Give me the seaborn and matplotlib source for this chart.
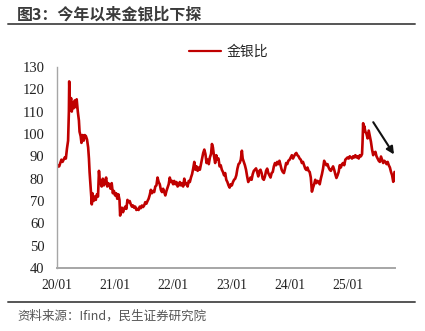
import matplotlib
matplotlib.use("Agg")
import matplotlib.pyplot as plt
import matplotlib.dates as mdates
from matplotlib.lines import Line2D
import pandas as pd
import seaborn as sns

# Gold/silver price ratio, roughly weekly samples, one list pair per year
dates_2020 = ["2020-01-01", "2020-01-08", "2020-01-15", "2020-01-22", "2020-01-29", "2020-02-05",
              "2020-02-12", "2020-02-19", "2020-02-26", "2020-03-04", "2020-03-11", "2020-03-16",
              "2020-03-18", "2020-03-20", "2020-03-25", "2020-03-30", "2020-04-03", "2020-04-09",
              "2020-04-15", "2020-04-22", "2020-04-28", "2020-05-04", "2020-05-11", "2020-05-18",
              "2020-05-22", "2020-05-29", "2020-06-03", "2020-06-10", "2020-06-17", "2020-06-24",
              "2020-07-01", "2020-07-08", "2020-07-15", "2020-07-20", "2020-07-24", "2020-07-29",
              "2020-08-04", "2020-08-07", "2020-08-11", "2020-08-18", "2020-08-25", "2020-09-01",
              "2020-09-08", "2020-09-15", "2020-09-21", "2020-09-25", "2020-10-01", "2020-10-08",
              "2020-10-15", "2020-10-22", "2020-10-29", "2020-11-05", "2020-11-12", "2020-11-19",
              "2020-11-26", "2020-12-03", "2020-12-10", "2020-12-17", "2020-12-24", "2020-12-31"]
ratio_2020 = [85.0, 86.0, 85.5, 87.0, 88.5, 87.5,
              88.5, 89.5, 89.0, 93.5, 97.0, 110.0,
              123.5, 118.0, 113.0, 116.0, 110.0, 114.0,
              111.5, 115.0, 112.0, 115.5, 110.0, 106.0,
              101.0, 99.0, 96.0, 99.5, 97.0, 99.5,
              99.0, 97.5, 94.0, 89.0, 83.0, 78.0,
              72.0, 68.5, 73.5, 70.0, 72.0, 70.5,
              73.0, 72.0, 83.5, 80.0, 78.0, 76.5,
              80.0, 77.0, 78.5, 80.5, 76.5, 78.0,
              77.0, 75.5, 78.0, 73.5, 74.5, 72.5]

dates_2021 = ["2021-01-07", "2021-01-14", "2021-01-21", "2021-01-28", "2021-02-01", "2021-02-05",
              "2021-02-12", "2021-02-19", "2021-02-26", "2021-03-05", "2021-03-12", "2021-03-19",
              "2021-03-26", "2021-04-02", "2021-04-09", "2021-04-16", "2021-04-23", "2021-04-30",
              "2021-05-07", "2021-05-14", "2021-05-21", "2021-05-28", "2021-06-04", "2021-06-11",
              "2021-06-18", "2021-06-25", "2021-07-02", "2021-07-09", "2021-07-16", "2021-07-23",
              "2021-07-30", "2021-08-06", "2021-08-13", "2021-08-20", "2021-08-27", "2021-09-03",
              "2021-09-10", "2021-09-17", "2021-09-24", "2021-10-01", "2021-10-08", "2021-10-15",
              "2021-10-22", "2021-10-29", "2021-11-05", "2021-11-12", "2021-11-19", "2021-11-26",
              "2021-12-03", "2021-12-10", "2021-12-17", "2021-12-24", "2021-12-31"]
ratio_2021 = [73.5, 71.0, 73.0, 70.5, 63.5, 65.5,
              67.0, 65.0, 66.5, 67.5, 66.5, 70.5,
              69.5, 70.0, 68.5, 67.5, 68.0, 67.0,
              67.5, 66.0, 66.5, 66.0, 67.5, 66.8,
              68.0, 67.3, 68.0, 69.5, 68.8, 70.0,
              71.0, 72.7, 75.0, 73.5, 74.5, 74.0,
              76.5, 77.0, 80.5, 78.5, 77.5, 75.0,
              74.0, 75.5, 74.0, 72.5, 74.5, 76.0,
              77.5, 80.5, 78.5, 79.0, 77.5]

dates_2022 = ["2022-01-07", "2022-01-14", "2022-01-21", "2022-01-28", "2022-02-04", "2022-02-11",
              "2022-02-18", "2022-02-25", "2022-03-04", "2022-03-11", "2022-03-18", "2022-03-25",
              "2022-04-01", "2022-04-08", "2022-04-15", "2022-04-22", "2022-04-29", "2022-05-06",
              "2022-05-13", "2022-05-20", "2022-05-27", "2022-06-03", "2022-06-10", "2022-06-17",
              "2022-06-24", "2022-07-01", "2022-07-08", "2022-07-15", "2022-07-22", "2022-07-29",
              "2022-08-05", "2022-08-12", "2022-08-19", "2022-08-26", "2022-09-01", "2022-09-07",
              "2022-09-14", "2022-09-21", "2022-09-28", "2022-10-05", "2022-10-12", "2022-10-19",
              "2022-10-26", "2022-11-02", "2022-11-09", "2022-11-16", "2022-11-23", "2022-11-30",
              "2022-12-07", "2022-12-14", "2022-12-21", "2022-12-28"]
ratio_2022 = [79.0, 77.5, 78.5, 76.5, 77.0, 78.5,
              77.0, 78.0, 76.5, 80.0, 77.5, 78.0,
              76.5, 79.0, 78.5, 80.5, 82.0, 84.5,
              87.5, 84.0, 85.5, 83.5, 85.0, 84.0,
              86.5, 89.0, 91.5, 93.0, 91.0, 87.0,
              88.5, 86.5, 89.5, 91.0, 95.5, 94.0,
              90.0, 87.0, 90.5, 88.5, 89.0, 85.5,
              86.0, 84.0, 83.0, 81.5, 82.5, 79.5,
              78.5, 77.0, 76.0, 77.5]

dates_2023 = ["2023-01-04", "2023-01-11", "2023-01-18", "2023-01-25", "2023-02-01", "2023-02-08",
              "2023-02-15", "2023-02-22", "2023-03-01", "2023-03-08", "2023-03-13", "2023-03-20",
              "2023-03-27", "2023-04-03", "2023-04-10", "2023-04-17", "2023-04-24", "2023-05-01",
              "2023-05-08", "2023-05-15", "2023-05-22", "2023-05-29", "2023-06-05", "2023-06-12",
              "2023-06-19", "2023-06-26", "2023-07-03", "2023-07-10", "2023-07-17", "2023-07-24",
              "2023-07-31", "2023-08-07", "2023-08-14", "2023-08-21", "2023-08-28", "2023-09-04",
              "2023-09-11", "2023-09-18", "2023-09-25", "2023-10-02", "2023-10-09", "2023-10-16",
              "2023-10-23", "2023-10-30", "2023-11-06", "2023-11-13", "2023-11-20", "2023-11-27",
              "2023-12-04", "2023-12-11", "2023-12-18", "2023-12-25"]
ratio_2023 = [77.0, 78.5, 79.5, 80.0, 81.5, 84.5,
              86.5, 87.0, 88.5, 92.5, 89.0, 87.5,
              86.0, 84.0, 81.0, 78.5, 79.5, 80.5,
              79.5, 82.0, 83.5, 84.0, 84.6, 83.0,
              81.0, 83.5, 84.0, 82.5, 80.0, 79.5,
              81.0, 83.5, 84.5, 82.5, 81.5, 80.5,
              82.5, 83.0, 85.5, 87.0, 86.0, 87.5,
              86.5, 88.0, 86.0, 84.0, 83.0, 82.5,
              84.5, 87.0, 86.5, 88.0]

dates_2024 = ["2024-01-02", "2024-01-09", "2024-01-16", "2024-01-23", "2024-01-30", "2024-02-06",
              "2024-02-13", "2024-02-20", "2024-02-27", "2024-03-05", "2024-03-12", "2024-03-19",
              "2024-03-26", "2024-04-02", "2024-04-09", "2024-04-16", "2024-04-23", "2024-04-30",
              "2024-05-07", "2024-05-14", "2024-05-21", "2024-05-28", "2024-06-04", "2024-06-11",
              "2024-06-18", "2024-06-25", "2024-07-02", "2024-07-09", "2024-07-16", "2024-07-23",
              "2024-07-30", "2024-08-06", "2024-08-13", "2024-08-20", "2024-08-27", "2024-09-03",
              "2024-09-10", "2024-09-17", "2024-09-24", "2024-10-01", "2024-10-08", "2024-10-15",
              "2024-10-22", "2024-10-29", "2024-11-05", "2024-11-12", "2024-11-19", "2024-11-26",
              "2024-12-03", "2024-12-10", "2024-12-17", "2024-12-24", "2024-12-31"]
ratio_2024 = [88.5, 89.5, 90.5, 89.0, 90.0, 91.0,
              91.5, 90.5, 90.0, 89.0, 88.5, 87.0,
              87.5, 86.0, 84.5, 83.9, 85.0, 83.5,
              83.0, 80.5, 74.2, 76.0, 77.5, 79.5,
              78.0, 79.0, 78.6, 77.5, 80.0, 82.0,
              84.5, 88.0, 87.0, 86.0, 86.5, 85.0,
              84.0, 83.5, 84.5, 85.5, 84.0, 82.0,
              80.3, 81.5, 83.0, 86.0, 85.0, 86.5,
              87.0, 86.0, 88.5, 89.0, 89.5]

dates_2025 = ["2025-01-07", "2025-01-14", "2025-01-21", "2025-01-28", "2025-02-04", "2025-02-11",
              "2025-02-18", "2025-02-25", "2025-03-04", "2025-03-11", "2025-03-18", "2025-03-25",
              "2025-04-01", "2025-04-04", "2025-04-08", "2025-04-11", "2025-04-15", "2025-04-22",
              "2025-04-29", "2025-05-06", "2025-05-13", "2025-05-20", "2025-05-27", "2025-06-03",
              "2025-06-10", "2025-06-17", "2025-06-24", "2025-07-01", "2025-07-08", "2025-07-15",
              "2025-07-22", "2025-07-29", "2025-08-05", "2025-08-12", "2025-08-19", "2025-08-26",
              "2025-09-02", "2025-09-09", "2025-09-16", "2025-09-23", "2025-09-30", "2025-10-07",
              "2025-10-14", "2025-10-18", "2025-10-22"]
ratio_2025 = [89.0, 90.0, 89.5, 89.0, 90.0, 89.5,
              90.5, 89.5, 90.0, 89.0, 90.5, 90.0,
              91.0, 96.0, 104.8, 101.0, 103.5, 101.0,
              100.0, 98.0, 101.5, 99.0, 96.5, 93.0,
              90.5, 91.5, 92.0, 90.0, 89.0, 88.0,
              87.5, 89.9, 88.5, 87.0, 88.0, 87.5,
              86.5, 87.5, 86.0, 85.0, 83.0, 81.5,
              78.6, 79.5, 83.0]

y_ticks = [40, 50, 60, 70, 80, 90, 100, 110, 120, 130]
x_ticks = ["2020-01-01", "2021-01-01", "2022-01-01", "2023-01-01", "2024-01-01", "2025-01-01"]
series_name = "金银比"
title_text = "图3：今年以来金银比下探"
source_text = "资料来源：Ifind，民生证券研究院"

df = pd.DataFrame({
    "date": pd.to_datetime(dates_2020 + dates_2021 + dates_2022 + dates_2023 + dates_2024 + dates_2025),
    "ratio": ratio_2020 + ratio_2021 + ratio_2022 + ratio_2023 + ratio_2024 + ratio_2025,
})

sns.set_theme(style="white")
plt.rcParams["font.family"] = ["Noto Sans CJK SC", "DejaVu Sans"]

RED = "#C00000"
AXIS_GRAY = "#A6A6A6"

fig = plt.figure(figsize=(4.25, 3.31), dpi=100)
ax = fig.add_axes([0.134, 0.190, 0.795, 0.608])

sns.lineplot(data=df, x="date", y="ratio", ax=ax, color=RED, linewidth=1.9, legend=False)

ax.set_ylim(40, 130)
ax.set_yticks(y_ticks)
ax.set_xlim(pd.Timestamp("2020-01-01"), pd.Timestamp("2025-10-24"))
ax.set_xticks(pd.to_datetime(x_ticks))
ax.xaxis.set_major_formatter(mdates.DateFormatter("%y/%m"))
ax.set_xlabel("")
ax.set_ylabel("")

for side in ("top", "right"):
    ax.spines[side].set_visible(False)
ax.spines["left"].set_color(AXIS_GRAY)
ax.spines["left"].set_linewidth(1.0)
ax.spines["bottom"].set_color(AXIS_GRAY)
ax.spines["bottom"].set_linewidth(1.4)

ax.tick_params(axis="both", direction="in", length=4, width=0.8, color=AXIS_GRAY)
ax.tick_params(axis="y", pad=9, labelsize=10.5, labelcolor="#222222")
ax.tick_params(axis="x", pad=8, labelsize=9.8, labelcolor="#222222")
for lab in ax.get_xticklabels() + ax.get_yticklabels():
    lab.set_fontfamily("Liberation Serif")

# trend arrow over the recent decline
ax.annotate("", xy=(pd.Timestamp("2025-10-28"), 89.8),
            xytext=(pd.Timestamp("2025-06-01"), 106.3),
            arrowprops=dict(arrowstyle="-|>", color="#111111", lw=1.5, mutation_scale=11),
            annotation_clip=False)

handle = Line2D([], [], color=RED, linewidth=1.6)
ax.legend([handle], [series_name], loc="center", bbox_to_anchor=(0.538, 0.844),
          bbox_transform=fig.transFigure, frameon=False, fontsize=10,
          handlelength=2.3, handletextpad=0.35, borderpad=0)

fig.text(0.040, 0.955, title_text, fontsize=11.5, fontweight="bold", color="#3B3B3B",
         ha="left", va="center")
fig.add_artist(Line2D([8 / 425, 415 / 425], [1 - 24 / 331] * 2, color="#555555", linewidth=1.4))
fig.add_artist(Line2D([8 / 425, 415 / 425], [1 - 302 / 331] * 2, color="#555555", linewidth=1.4))
fig.text(0.040, 1 - 316 / 331, source_text, fontsize=9, color="#555555",
         ha="left", va="center")

fig.savefig("out.png", dpi=100, facecolor="white")
